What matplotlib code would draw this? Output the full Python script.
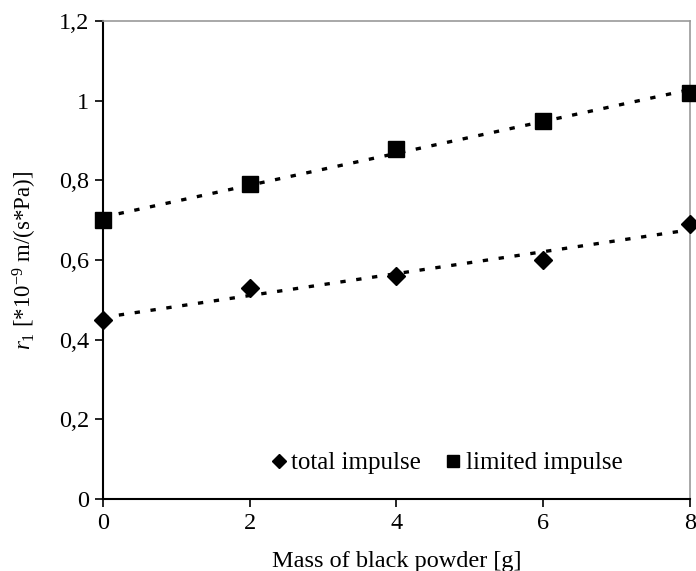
import matplotlib
matplotlib.use("Agg")
import matplotlib.pyplot as plt
import numpy as np

mass = [0, 2, 4, 6, 8]
total_impulse = [0.45, 0.53, 0.56, 0.60, 0.69]
limited_impulse = [0.70, 0.79, 0.88, 0.95, 1.02]
yticks = [0, 0.2, 0.4, 0.6, 0.8, 1.0, 1.2]
ytick_labels = ["0", "0,2", "0,4", "0,6", "0,8", "1", "1,2"]
xticks = [0, 2, 4, 6, 8]

plt.rcParams['font.family'] = ['Liberation Serif', 'DejaVu Serif']
plt.rcParams['mathtext.fontset'] = 'custom'
plt.rcParams['mathtext.rm'] = 'Liberation Serif'
plt.rcParams['mathtext.it'] = 'Liberation Serif:italic'

fig = plt.figure(figsize=(6.96, 5.71), dpi=100)
ax = fig.add_axes([0.148, 0.126, 0.843, 0.837])

x = np.array(mass, dtype=float)
xs = np.linspace(0, 8, 100)
for y in (total_impulse, limited_impulse):
    p = np.polyfit(x, y, 1)
    ax.plot(xs, np.polyval(p, xs), color='black', lw=2.4,
            linestyle=(0, (1.6, 3.2)), zorder=2)

ax.plot(mass, total_impulse, linestyle='none', marker='D', ms=9.5,
        color='black', clip_on=False, zorder=3, label='total impulse')
ax.plot(mass, limited_impulse, linestyle='none', marker='s', ms=11,
        color='black', clip_on=False, zorder=3, label='limited impulse')

ax.set_xlim(0, 8)
ax.set_ylim(0, 1.2)
ax.set_xticks(xticks)
ax.set_yticks(yticks)
ax.set_yticklabels(ytick_labels)
ax.tick_params(labelsize=17.5, direction='out', length=6, width=1.2, pad=4)
for s in ('left', 'bottom'):
    ax.spines[s].set_linewidth(1.5)
    ax.spines[s].set_color('black')
for s in ('top', 'right'):
    ax.spines[s].set_linewidth(1.2)
    ax.spines[s].set_color('#999999')

ax.set_xlabel('Mass of black powder [g]', fontsize=17.5, labelpad=12)
ax.set_ylabel(r'$r_1$ [*10$^{-9}$ m/(s*Pa)]', fontsize=16.5, labelpad=14)

leg = ax.legend(loc='center', bbox_to_anchor=(0.586, 0.075), ncol=2, frameon=False,
                fontsize=18, handlelength=0.6, handletextpad=0.2, columnspacing=1.0,
                markerscale=0.8)

fig.savefig('out.png', dpi=100)
